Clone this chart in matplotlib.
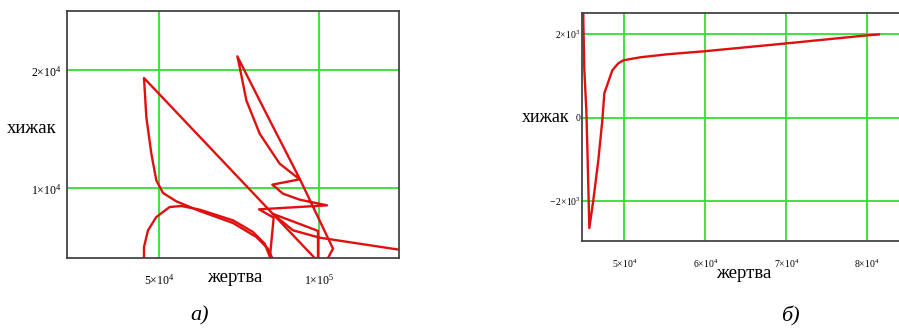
import numpy as np
import matplotlib
matplotlib.use("Agg")
import matplotlib.pyplot as plt

plt.rcParams['font.family'] = ['Liberation Serif', 'DejaVu Serif']
plt.rcParams['mathtext.fontset'] = 'custom'
plt.rcParams['mathtext.rm'] = 'Liberation Serif'
plt.rcParams['mathtext.it'] = 'Liberation Serif:italic'

# panel a) - phase trajectory pieces (prey, predator)
a1_prey = [45300, 45300, 46556, 49165, 53340, 56994, 62735, 73173, 79436, 83090, 84864, 85490]
a1_pred = [3333, 5028, 6441, 7571, 8418, 8503, 8192, 7288, 6299, 5311, 4096, 3333]

a2_prey = [86743, 84134, 80480, 73173, 62735, 55428, 51253, 49165, 47599, 46033, 45303, 98747, 99478]
a2_pred = [3333, 4887, 5876, 7062, 8079, 8898, 9605, 10678, 12938, 16045, 19350, 4096, 3333]

a3_prey = [84447, 85908, 81315, 102610, 94050, 88831, 85491, 94050, 87787, 81524, 77349,
           75261, 74530, 83612, 94050, 104489, 102923, 102401]
a3_pred = [3333, 7514, 8220, 8559, 9040, 9548, 10311, 10763, 12090, 14633, 17458,
           20282, 21186, 16328, 10819, 4887, 4096, 3333]

a4_prey = [99791, 99791, 98225, 85491, 91962, 100313, 125157, 131628]
a4_pred = [3333, 6384, 6554, 7853, 6441, 5819, 4802, 4548]

# panel b)
b_prey = [44931, 44931, 45055, 45302, 45426, 45549, 45673, 46168, 46786, 47280, 47528,
          48517, 49258, 49876, 51978, 55316, 59890, 70151, 80040, 81450]
b_pred = [2685, 2326, 1131, 175, -710, -1666, -2646, -1976, -1020, -64, 582,
          1132, 1299, 1370, 1442, 1514, 1586, 1777, 1968, 1988]

a_xticks = [5e4, 1e5]
a_xlabels = [r'$5{\times}10^{4}$', r'$1{\times}10^{5}$']
a_yticks = [1e4, 2e4]
a_ylabels = [r'$1{\times}10^{4}$', r'$2{\times}10^{4}$']

b_xticks = [5e4, 6e4, 7e4, 8e4]
b_xlabels = [r'$5{\times}10^{4}$', r'$6{\times}10^{4}$', r'$7{\times}10^{4}$', r'$8{\times}10^{4}$']
b_yticks = [-2e3, 0, 2e3]
b_ylabels = [r'$-\,2{\times}10^{3}$', '0', r'$2{\times}10^{3}$']

W, H = 899, 329
fig = plt.figure(figsize=(W / 100, H / 100), dpi=100)

grid_col = '#2ee02e'
red = '#e01010'


def px_axes(x0, y0, x1, y1):
    return fig.add_axes([x0 / W, 1 - y1 / H, (x1 - x0) / W, (y1 - y0) / H])


def style(ax):
    ax.grid(True, color=grid_col, lw=1.3)
    ax.set_axisbelow(True)
    for s in ax.spines.values():
        s.set_color('#444444')
        s.set_linewidth(1.3)


# --- panel a
ax1 = px_axes(67, 11, 399, 258)
for px, py in [(a1_prey, a1_pred), (a2_prey, a2_pred), (a3_prey, a3_pred), (a4_prey, a4_pred)]:
    ax1.plot(px, py, color=red, lw=1.7)
ax1.set_xlim(21190, 125157)
ax1.set_ylim(4096, 25028)
ax1.set_xticks(a_xticks, a_xlabels)
ax1.set_yticks(a_yticks, a_ylabels)
ax1.tick_params(length=0, labelsize=8.5)
ax1.tick_params(axis='x', pad=11)
ax1.tick_params(axis='y', pad=4)
style(ax1)

# --- panel b
ax2 = px_axes(582, 13, 900, 241)
ax2.plot(b_prey, b_pred, color=red, lw=1.7)
ax2.set_xlim(44767, 84050)
ax2.set_ylim(-2956, 2502)
ax2.set_xticks(b_xticks, b_xlabels)
ax2.set_yticks(b_yticks, b_ylabels)
ax2.tick_params(length=0, labelsize=7)
ax2.tick_params(axis='x', pad=12)
ax2.tick_params(axis='y', pad=1)
style(ax2)

# axis titles and captions
fig.text(235 / W, 1 - 277 / H, 'жертва', ha='center', va='center', fontsize=13.5)
fig.text(32 / W, 1 - 128 / H, 'хижак', ha='center', va='center', fontsize=13.5)
fig.text(744 / W, 1 - 273 / H, 'жертва', ha='center', va='center', fontsize=13.5)
fig.text(546 / W, 1 - 117 / H, 'хижак', ha='center', va='center', fontsize=13)
fig.text(200 / W, 1 - 316 / H, 'а)', ha='center', va='center', fontsize=16, style='italic')
fig.text(790 / W, 1 - 316 / H, 'б)', ha='center', va='center', fontsize=16, style='italic')

fig.savefig('out.png', dpi=100)
